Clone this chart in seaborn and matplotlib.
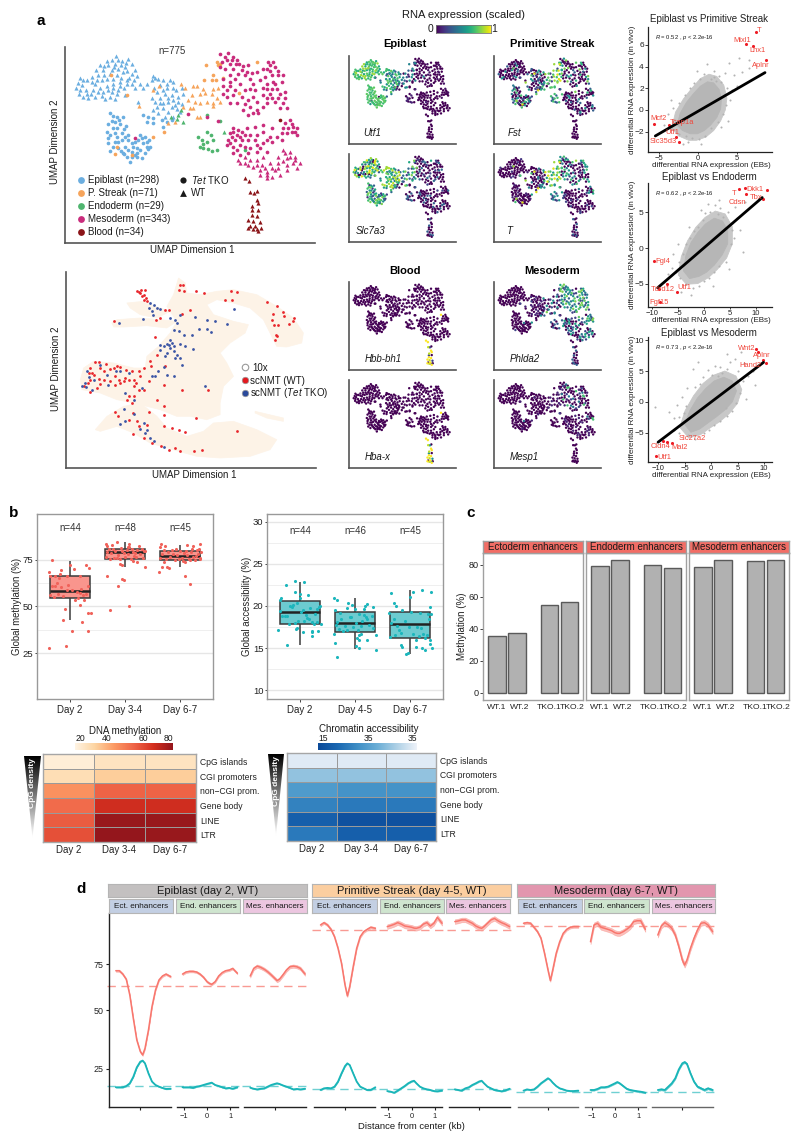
import numpy as np, pandas as pd
import matplotlib
matplotlib.use("Agg")
import matplotlib.pyplot as plt
from matplotlib.colors import LinearSegmentedColormap
from matplotlib.patches import Polygon, Rectangle
import seaborn as sns

sns.set_theme(style="white")
plt.rcParams['font.family'] = ['Liberation Sans', 'DejaVu Sans']
plt.rcParams.update({'mathtext.fontset':'custom','mathtext.rm':'Liberation Sans',
                     'mathtext.it':'Liberation Sans:italic','mathtext.bf':'Liberation Sans:bold'})

# ---------------- UMAP embedding (a, top) : (x, y, marker) by cluster
EPI_A_T = [(348,168),(335,180),(320,183),(300,195),(325,195),(345,190),(365,182),(385,175),(395,190),(375,200),(355,205),(335,210),(310,210),(295,225),(275,230),(240,232),(235,248),(228,262),(245,255),(262,240),(285,250),(305,240),(320,235),(330,222),(350,225),(370,215),(395,220),(410,228),(380,240),(360,245),(340,250),(320,258),(300,262),(280,268),(262,282),(238,280),(265,295),(285,290),(305,288),(330,290),(345,298),(335,275),(355,270),(372,262),(395,250),(420,250),(350,282),(375,285),(310,275),(325,270),(355,178),(378,188),(312,197),(288,210),(342,200),(362,195),(382,212),(405,210),(275,245),(250,240),(258,268),(240,268),(292,238),(312,225),(340,235),(362,232),(388,232),(402,240),(295,275),(272,280),(250,290),(315,298),(338,262),(360,258),(382,250),(405,262)]
EPI_B_T = [(458,228),(475,235),(490,240),(510,238),(520,245),(455,240),(440,250),(430,262),(480,255),(500,262),(520,262),(545,262),(470,275),(495,280),(515,285),(535,290),(550,282),(465,305),(480,295),(505,305),(525,315),(545,312),(470,320),(490,325),(515,320),(475,340),(495,350),(520,350),(540,335),(415,305),(465,232),(500,250),(528,270),(490,270),(462,262),(505,295),(520,300),(490,310),(455,295),(535,305),(480,310),(505,335),(530,328),(460,330)]
EPI_B_C = [(430,345),(445,350),(460,355),(440,365),(458,368),(485,360),(500,365),(490,382),(515,360)]
EPI_C_C = [(330,338),(350,352),(370,352),(345,365),(360,372),(378,378),(325,372),(340,385),(320,395),(345,398),(365,398),(385,405),(325,415),(350,410),(365,420),(385,420),(325,430),(345,425),(330,452),(355,445),(375,440),(400,440),(420,405),(435,410),(448,420),(415,420),(405,425),(430,430),(450,440),(405,465),(420,450),(435,458),(445,448),(385,450),(368,458),(390,485),(395,470),(372,463),(412,470),(425,475),(338,348),(358,360),(335,362),(352,385),(372,388),(330,405),(355,425),(375,410),(338,440),(362,452),(395,430),(410,445),(425,415),(440,425),(395,455),(410,458),(440,440),(380,470)]
PS_T = [(417,318),(458,270),(478,258),(542,250),(578,258),(590,258),(555,262),(610,265),(640,265),(655,262),(575,285),(600,282),(615,278),(635,282),(650,295),(565,300),(585,305),(600,310),(620,305),(640,310),(660,305),(548,320),(570,325),(578,325),(640,318),(590,352),(505,370),(525,365),(600,350)]
PS_C = [(617,195),(652,185),(655,195),(660,190),(770,185),(640,225),(612,238),(635,238),(648,238),(670,232),(492,395),(460,412),(352,440),(345,462),(395,465),(718,278),(332,223),(380,285)]
ENDO_T = [(513,350),(535,345),(530,358),(548,365),(542,330),(672,397)]
ENDO_C = [(660,363),(595,410),(605,420),(620,395),(632,405),(640,420),(610,432),(620,425),(625,448),(610,445),(600,440),(652,450),(635,452),(620,345),(735,450)]
MES_T_C = [(660,160),(685,158),(700,170),(712,178),(680,180),(665,185),(690,190),(718,190),(660,200),(700,205),(725,210),(745,195),(740,215),(670,235),(690,225),(705,235),(735,225),(750,235),(770,215),(790,205),(805,185),(820,185),(800,205),(825,200),(815,225),(835,225),(795,230),(780,240),(800,250),(820,245),(848,225),(845,245),(800,265),(830,265),(815,265),(750,265),(765,270),(735,270),(670,258),(690,258),(680,270),(705,270),(725,290),(700,285),(668,280),(680,290),(790,285),(815,295),(835,295),(855,295),(850,310),(825,305),(800,310),(860,325),(840,325),(745,300),(770,305),(750,320),(730,330),(770,330),(745,345),(775,340),(710,310),(690,310),(800,295),(870,360),(855,370),(880,380),(850,385),(875,395),(860,400),(890,385),(845,400),(890,405),(765,380),(790,375),(815,385),(845,420),(565,342),(405,415),(620,350),(655,363),(675,170),(695,178),(708,192),(675,205),(715,220),(730,198),(755,218),(760,250),(720,250),(690,245),(810,195),(835,212),(810,212),(825,250),(790,262),(840,280),(855,275),(810,280),(760,290),(735,312),(760,340),(790,320),(875,372),(865,385),(885,395)]
MES_B_C = [(700,385),(715,390),(740,385),(690,400),(710,405),(735,405),(685,420),(705,420),(725,420),(745,420),(770,405),(790,395),(810,410),(680,435),(700,440),(720,435),(750,445),(770,435),(790,430),(815,425),(700,460),(720,465),(745,460),(770,455),(800,455),(700,395),(725,395),(695,412),(720,410),(750,405),(690,430),(712,450),(735,440),(765,420),(780,445),(800,420),(830,410)]
MES_B_T = [(850,450),(870,455),(835,470),(860,475),(885,470),(900,490),(880,490),(860,495),(835,490),(790,470),(770,480),(750,480),(715,480),(735,490),(760,500),(785,495),(810,490),(825,510),(800,515),(780,510),(800,535),(815,530),(840,525),(860,510),(890,505),(720,490),(870,470),(848,482),(885,480),(745,495),(770,495),(795,505),(815,505),(835,505),(800,525),(855,460),(735,470),(780,525)]
BLOOD_T = [(735,533),(748,543),(750,577),(762,578),(772,572),(770,600),(775,610),(757,620),(755,632),(775,630),(770,650),(745,660),(760,665),(780,668),(750,680),(765,680),(745,685),(758,688),(772,688),(782,685),(775,695),(755,645)]
BLOOD_C = [(840,360)]

CLUSTER_COLORS = {'epiA':'#6baee0','epiB':'#6baee0','epiC':'#6baee0','ps':'#f6a45b','endo':'#4fb56f',
                  'mesT':'#c92c7c','mesB':'#c92c7c','blood':'#8b1418'}
UMAP_SETS = [('epiA','^',EPI_A_T),('epiB','^',EPI_B_T),('epiB','o',EPI_B_C),('epiC','o',EPI_C_C),
             ('ps','^',PS_T),('ps','o',PS_C),('endo','^',ENDO_T),('endo','o',ENDO_C),
             ('mesT','o',MES_T_C),('mesB','o',MES_B_C),('mesB','^',MES_B_T),('blood','^',BLOOD_T),('blood','o',BLOOD_C)]
LEGEND_CLUSTERS = ['Epiblast (n=298)','P. Streak (n=71)','Endoderm (n=29)','Mesoderm (n=343)','Blood (n=34)']
LEGEND_COLORS = ['#6baee0','#f6a45b','#4fb56f','#c92c7c','#8b1418']

# expression levels cycled over the cells of every cluster
EXPR = {
 'Utf1':  dict(epiA=[.7,.75,.6,.85,.65],epiB=[.7,.6,.75,.5,.3],epiC=[.72,.68,.75],ps=[.45,.3,.1,.5,0],endo=[.1,0],mesT=[0,0,0,0,0,.05],mesB=[0],blood=[0]),
 'Slc7a3':dict(epiA=[.85,.6,.95,.7,.5,.3,0],epiB=[.85,.9,.7,.6,.4],epiC=[.7,.5,.3,.8,.15,.6],ps=[.6,.8,.35,.2],endo=[.3,0],mesT=[0,0,0,0,.2,0,0,.35],mesB=[0,0,0,.3,0,0],blood=[0,0,0,.3]),
 'Fst':   dict(epiA=[0,0,0,0,0,.3,0,0,0,0,.5,0],epiB=[.3,0,0,.5,0,.2,0],epiC=[.4,0,.2,.7,0,0,.5,0],ps=[.85,.7,.95,.6,.75,.2],endo=[.3,.7],mesT=[0,.5,.8,0,0,.3,0,0,.65,0,0,0],mesB=[0,0,0,0,.3,0,0,0,.5,0],blood=[0,0,0]),
 'T':     dict(epiA=[0,0,0,0,0,0,0,.15],epiB=[0,0,0,.4,0,0,0,.1],epiC=[0,0,0,0,.1,0],ps=[.85,.7,.95,.55],endo=[.2,.5],mesT=[.5,.7,.2,.6,0,.4,0,0,0,0],mesB=[0,0,0,0,0,0,.2],blood=[0,0,.3,0]),
 'Hbb-bh1':dict(epiA=[0],epiB=[0],epiC=[0],ps=[0],endo=[0],mesT=[0],mesB=[0],blood=[1,1,.9,.2,0]),
 'Hba-x': dict(epiA=[0],epiB=[0],epiC=[0],ps=[0],endo=[0],mesT=[0],mesB=[0],blood=[1,1,.9,.5,0]),
 'Phlda2':dict(epiA=[0],epiB=[0,0,.1],epiC=[0],ps=[0,.2,0,.5],endo=[0,.3],mesT=[.6,.8,.4,.5,.2,.75,.3],mesB=[0,.4,.2,.6,0],blood=[0,0,.3]),
 'Mesp1': dict(epiA=[0],epiB=[0],epiC=[0],ps=[0,0,.1],endo=[0],mesT=[0,0,.4,0,.2,0,0,.7,.1,0,0],mesB=[0,0,0,.1],blood=[0]),
}

# ---------------- 10x atlas projection (a, bottom)
ATLAS_BODY = [(535,115),(555,130),(560,160),(600,165),(650,155),(700,150),(770,165),(830,200),(880,235),(910,280),(905,310),(860,322),(830,320),(810,280),(790,240),(750,205),(700,190),(650,180),(620,195),(640,225),(700,245),(745,255),(735,280),(690,310),(660,340),(680,370),(700,410),(670,440),(660,490),(660,525),(620,540),(570,530),(530,530),(480,510),(440,500),(400,490),(350,480),(300,460),(245,450),(240,420),(250,385),(280,365),(340,370),(400,385),(435,385),(440,350),(475,320),(510,280),(530,245),(500,200),(520,165)]
ATLAS_ARM = [(335,250),(350,240),(420,235),(480,240),(530,245),(500,265),(440,258),(370,262),(340,262)]
ATLAS_CRESCENT = [(285,570),(320,530),(370,500),(420,490),(470,530),(500,565),(560,590),(610,575),(640,550),(700,545),(770,570),(830,600),(810,630),(750,650),(660,655),(590,650),(500,625),(450,610),(400,580),(350,560),(300,575)]
ATLAS_SMALL = [(765,515),(850,535),(850,545),(800,535),(765,520)]
ATLAS_TOP = [(380,190),(430,185),(450,195),(510,215),(470,235),(420,225),(390,205)]
WT_CELLS = [(410,155),(420,160),(435,150),(425,170),(430,180),(440,185),(415,158),(430,165),(437,175),(422,152),(538,137),(548,137),(536,152),(550,155),(588,155),(612,160),(693,155),(712,158),(676,181),(695,180),(800,187),(832,200),(820,222),(850,218),(852,230),(882,235),(878,245),(815,240),(822,255),(835,255),(867,254),(830,290),(825,300),(828,285),(570,210),(545,222),(493,210),(505,212),(480,235),(468,240),(342,245),(465,292),(470,345),(450,365),(452,380),(430,385),(495,380),(445,425),(492,435),(545,452),(625,452),(250,440),(262,430),(270,420),(275,400),(270,385),(285,368),(297,368),(300,385),(310,395),(318,372),(330,388),(340,385),(350,380),(360,382),(378,390),(395,395),(415,395),(420,410),(408,430),(400,440),(385,420),(372,425),(360,430),(345,435),(330,425),(310,420),(295,418),(280,405),(265,400),(290,445),(268,458),(300,432),(355,420),(345,408),(375,415),(400,420),(430,450),(415,450),(385,470),(380,480),(400,470),(395,490),(470,480),(490,500),(490,525),(445,518),(345,517),(352,530),(397,520),(385,540),(410,545),(398,583),(415,560),(440,555),(430,595),(455,610),(490,558),(515,565),(535,572),(555,578),(483,620),(505,630),(525,625),(540,635),(582,635),(605,630),(712,575),(588,535)]
TKO_CELLS = [(450,190),(462,195),(455,215),(470,205),(445,205),(458,225),(480,208),(428,237),(355,250),(510,235),(525,240),(540,225),(530,250),(520,270),(535,275),(550,285),(575,285),(585,232),(620,240),(645,243),(682,252),(598,268),(620,268),(632,278),(510,300),(515,310),(505,315),(520,320),(510,325),(500,312),(490,320),(480,315),(478,330),(500,340),(495,350),(520,335),(530,345),(540,355),(545,375),(525,355),(490,383),(500,405),(520,408),(473,395),(465,410),(455,410),(580,328),(555,318),(540,312),(260,395),(265,412),(255,430),(245,440),(258,442),(275,450),(282,422),(300,375),(320,405),(322,435),(348,395),(360,395),(385,400),(425,445),(375,460),(400,482),(372,508),(375,545),(360,553),(400,522),(430,550),(420,568),(440,572),(435,580),(448,595),(460,605),(490,622),(615,440),(702,207)]

# ---------------- scatter panels: EB vs in vivo differential expression
XY1_BLOB = [(-2.7,-1.4),(-2.3,-.3),(-1.5,.7),(-.6,1.5),(.3,2.2),(1.2,2.6),(2,2.5),(2.7,1.9),(3,1),(2.9,.1),(2.4,-.7),(1.6,-1.4),(.8,-1.9),(-.1,-2.2),(-1,-2.2),(-2,-1.9)]
XY1_HALO = [(-3.4,-1.7),(-2.9,-.2),(-1.9,1),(-.8,2),(.3,2.9),(1.4,3.3),(2.4,3.1),(3.3,2.3),(3.7,1.1),(3.5,0),(2.9,-1),(2,-1.9),(1,-2.5),(-.2,-2.8),(-1.2,-2.8),(-2.5,-2.4)]
XY1_CELLS = [(1.2,4.2),(2,3.6),(2.7,3.1),(3.4,3.4),(4.6,3.2),(4,4.3),(5.2,4.8),(6.6,4.6),(3,2.6),(3.7,2),(4.3,1.8),(5,2.2),(2.1,3),(.8,3.3),(.2,2.9),(-.5,2.5),(-1,2),(-1.7,1.4),(-2.5,.6),(-3.2,.2),(-3.9,-.4),(-4.4,-1.4),(-3.4,-1.8),(-3,-.9),(-2.4,-2.2),(-1.6,-2.4),(-.8,-2.6),(.1,-2.7),(.9,-2.4),(1.7,-1.7),(2.5,-1.1),(3.2,-.4),(3.6,.5),(4.1,.9),(.4,-3.1),(-1.3,-3),(-2,-3.1),(-3.5,.9),(2.3,2.7),(3.3,1.4),(5.6,3.5),(6.5,3.9),(-.2,3.6),(1.6,2.9),(-1.9,-.9),(2.9,-1.6),(3.9,-1)]
XY1_LINE_X = [-5.5, 8.6]
XY1_LINE_Y = [-2.4, 3.45]
XY1_RED = [(7.4,7.2),(6.2,6.06),(7.05,5.94),(8.76,4.6),(-5.7,-1.26),(-3.7,-1.4),(-2.83,-2.46),(-2.49,-2.95)]
XY1_GENES = [('T',7.9,7.3),('Mixl1',5.67,6.4),('Lhx1',7.6,5.5),('Aplnr',8.0,4.15),('Mcf2',-5.15,-.83),('Tcap1a',-2.06,-1.14),('Utf1',-3.35,-2.06),('Slc35d3',-4.5,-2.89)]

XY2_BLOB = [(-4,-3.2),(-3.5,-1),(-2.5,.8),(-1.2,2.2),(.3,3.4),(2,4.2),(3.6,3.8),(4.6,2.5),(4.6,.6),(3.5,-1),(2,-2.4),(.5,-3.4),(-1,-4),(-2.8,-4.3)]
XY2_HALO = [(-5,-3.8),(-4.4,-1.2),(-3.2,1),(-1.6,2.9),(.2,4.3),(2.2,5.2),(4.1,4.8),(5.5,3),(5.5,.6),(4.4,-1.4),(2.6,-3),(.8,-4.2),(-1.2,-5),(-3.4,-5.1)]
XY2_CELLS = [(3,6.8),(2.2,6),(3.2,5.6),(1.2,5.1),(2.7,4.8),(4.6,5),(.8,6.2),(5.5,3.5),(6.5,4.2),(7,2.6),(5.8,1.4),(5.2,.5),(7.5,-.6),(4.2,-1.9),(3,-2.5),(2,-3.4),(1,-4.2),(0,-4.6),(-1,-5.3),(-2.2,-5.6),(-3.5,-5.1),(-4.6,-4.2),(-5.4,-3.4),(-6.2,-2.8),(-6.9,-3.6),(-4.8,-1.9),(-4,-.8),(-3.5,.5),(-2.7,1.4),(-2,2.4),(-1.2,3),(-.2,4),(.2,4.9),(-3,3),(-5,.6),(-6,-.8),(6,5.8),(8,6.5),(-7.8,-4.8),(-2.6,-6.6),(-4.5,-6.2),(4.9,-3),(1.8,-5.3),(-.6,5.4),(3.6,4.4),(5.4,2.5)]
XY2_LINE_X = [-9, 11.3]
XY2_LINE_Y = [-5.6, 7.1]
XY2_RED = [(6.86,8.26),(7.96,8.45),(12.2,8.1),(11.4,6.9),(8.15,7.6),(-9.7,-1.83),(-7.25,-5.07),(-8.7,-5.8),(-5.18,-6.15),(-8.5,-7.56)]
XY2_GENES = [('T',5.9,7.65),('Dkk1',9.9,8.3),('Tbx',10.2,7.08),('Cdsn',6.5,6.38),('Fgl4',-8,-1.93),('Tdrd12',-8,-5.8),('Utf1',-3.9,-5.5),('Fgf15',-8.7,-7.7)]

XY3_BLOB = [(-5,-3.6),(-4,-1.4),(-2.6,.6),(-1,2.2),(.6,3.4),(2.4,4),(4,3.4),(4.8,1.8),(4,0),(2.6,-1.3),(1,-2.4),(-.6,-3.4),(-2.2,-4.4),(-3.8,-4.9)]
XY3_HALO = [(-5.9,-4.1),(-4.9,-1.4),(-3.3,1),(-1.5,3),(.4,4.3),(2.6,5),(4.7,4.2),(5.8,2),(5,-.2),(3.4,-1.9),(1.6,-3.2),(-.2,-4.2),(-2,-5.3),(-4.2,-5.8)]
XY3_CELLS = [(3,7.8),(3.5,6.5),(4.6,7),(5.6,8),(6.2,6.3),(5,5),(3,5.3),(1.6,5.6),(-.6,5.2),(-3.4,5.4),(-1.5,4),(.2,4.4),(1.4,4.2),(-4.5,2.2),(-3,2.4),(-5.4,.8),(-6.5,-.5),(-8,-1.7),(-10.5,-.8),(-7,-2.6),(-6,-2.4),(-5.2,-1.8),(-4.7,-.6),(6,3.4),(7,4.2),(5.4,1.4),(6.5,.5),(4.7,-.2),(4,-1.5),(3,-2.2),(1.6,-3),(.6,-3.8),(-.3,-4.5),(-1.4,-5),(-3,-6),(-4.4,-5.4),(-6,-5),(-7,-4.6),(-5.5,-3.6),(8,5),(8.3,2.8),(2.8,-.9),(2,4.7),(-2,2.9),(.7,5.8),(-2.5,6.5)]
XY3_LINE_X = [-10, 9.9]
XY3_LINE_Y = [-6.5, 6.4]
XY3_RED = [(8.5,8.55),(8.9,8),(9.75,6.77),(10.4,6.34),(-9.1,-6.24),(-8.4,-6.5),(-7.3,-6.56),(-10.4,-8.7)]
XY3_GENES = [('Wnt2',6.7,8.7),('Aplnr',9.6,7.47),('Hand2',7.36,5.97),('Cldn4',-9.6,-7.26),('Mal2',-6,-7.37),('Slc27a2',-3.5,-5.97),('Utf1',-8.87,-9)]

# ---------------- b: boxes (whisker low, q1, median, q3, whisker high) and cells (jitter, value)
MET_DAYS = ['Day 2','Day 3-4','Day 6-7']
ACC_DAYS = ['Day 2','Day 4-5','Day 6-7']
MET_BOX = [[43,54.4,58.5,66.1,74.5],[71.4,75.7,79,81,84.4],[71,75,77,80,83]]
ACC_BOX = [[15.4,17.9,19.3,20.55,22.9],[14.84,16.87,18,19.3,21],[14.25,16.15,17.86,19.3,21.9]]
MET_N = ['n=44','n=48','n=45']
ACC_N = ['n=44','n=46','n=45']
MET_D2 = [(-.38,27.5),(-.07,28.7),(.33,36.6),(.03,37.1),(.22,41.7),(-.13,43),(.33,46.7),(.38,46.7),(-.1,48.7),(.18,51),(-.33,75),(0,72),(.29,72.3),(.35,70.5),(.07,70),(-.17,69.7),(-.38,68.6),(-.18,67.5),(-.36,66.5),(-.27,66.1),(-.2,65.2),(-.06,66.1),(.18,66.1),(-.33,60.8),(-.27,61.1),(-.36,56.3),(-.21,56.7),(-.06,58.6),(.13,58),(.18,57.2),(.32,61),(.24,56.3),(.15,54.5),(.25,53.3),(-.3,55),(-.12,55.8),(.03,59),(.09,53.6),(-.17,60.4),(.2,59.3),(-.24,62.5),(-.03,61.7),(.29,56.9)]
MET_D34 = [(-.27,48),(.08,50.3),(-.13,61.1),(-.33,66.3),(-.05,64.7),(-.02,64.1),(-.1,72.9),(-.06,72.2),(.36,71.4),(.22,73.6),(-.14,84.4),(.08,83.5),(-.35,83.4),(-.24,83.2),(-.33,82.3),(-.35,76.8),(-.32,79.4),(-.3,81),(-.25,78.6),(-.2,75.9),(-.18,80),(-.12,77.7),(-.08,81.2),(-.05,79.5),(0,76.5),(.03,80.5),(.06,78),(.1,75.6),(.12,81),(.15,79),(.17,77),(.22,80.5),(.28,78),(.32,76),(.3,81),(.35,79.5),(-.28,75.5),(-.15,76.2),(.2,76.5),(.08,82),(-.02,78.5),(.25,82.3),(.36,80),(.14,74.6),(-.22,80.9),(-.1,75.3),(.05,82),(.18,78.9)]
MET_D67 = [(.19,62.2),(.09,66.3),(-.38,68.6),(-.33,71),(-.2,70.9),(-.24,71.4),(-.3,74.1),(.09,73.8),(-.35,83.4),(.36,83.4),(.13,83),(.23,82.7),(-.37,76),(-.33,78),(-.3,80.5),(-.36,81.8),(-.26,75.5),(-.22,79),(-.18,76.5),(-.15,80.2),(-.1,75.2),(-.05,77.5),(0,79.5),(.03,76),(.06,74.6),(.1,80),(.13,77.5),(.16,75.5),(.2,79),(.24,76.5),(.27,74.9),(.3,80.5),(.33,78),(.36,76.2),(.38,79.3),(.34,81),(-.12,78.3),(-.02,75.4),(.08,78.8),(.22,81),(-.28,82.5),(.18,74.8),(.29,77),(-.08,80.6),(.37,75.6)]
ACC_D2 = [(-.4,17.2),(-.23,15.4),(-.26,22.5),(-.09,23),(.08,22.8),(-.09,21.7),(0,21.4),(0,20.9),(.15,21.3),(-.34,20.9),(-.36,20.7),(-.08,17.3),(-.05,17.4),(.06,16.9),(.22,17),(.33,17),(.21,16.4),(.21,16.9),(-.37,19.4),(-.33,18.8),(-.28,18.8),(-.24,18.8),(-.18,20),(-.14,19.9),(-.12,20.1),(-.05,20.4),(-.03,18.2),(.02,19.3),(.05,19.5),(.1,18.9),(.12,18.6),(.18,19.8),(.22,18.1),(.25,17.9),(.27,19),(.31,19.7),(.34,19.9),(.36,20),(.38,17.9),(.16,18.4),(-.1,18),(.3,18.1),(-.2,17.9),(.08,18.2)]
ACC_D45 = [(-.38,21),(-.32,20.7),(-.13,20.3),(-.05,20.1),(.22,20.2),(.33,19.9),(.19,20),(-.14,19.8),(0,19.6),(-.37,19.5),(.16,19.7),(-.35,17.7),(-.33,18.1),(-.3,17.3),(-.26,18.5),(-.22,17),(-.18,17.6),(-.1,18.7),(-.07,18.7),(-.04,17.5),(.02,18),(.05,17.1),(.1,17.6),(.13,18.2),(.16,18.9),(.2,18.7),(.22,18.4),(.25,17.7),(.3,18.8),(.33,17.4),(-.15,17.2),(-.28,19.2),(.08,19),(-.38,16.7),(.07,16.5),(.1,16.7),(.03,16.2),(.38,16.5),(.07,15.9),(.21,16),(-.36,15.6),(.01,15.2),(.07,15),(.39,14.8),(-.33,13.9)]
ACC_D67 = [(-.35,21.5),(-.3,20.3),(-.26,20),(0,21.1),(.05,21.7),(.21,21.9),(.38,21.7),(.36,19.9),(-.38,19.2),(-.14,19.5),(.02,19.3),(.19,19.2),(.32,19.1),(.38,19),(-.3,18.4),(-.34,18),(-.24,17.6),(-.2,17.2),(-.17,16.8),(-.1,18.2),(-.02,17.5),(.06,16.7),(.12,17.5),(.16,16.4),(.2,17.4),(.24,16.7),(.3,16.5),(.35,18.5),(-.36,16.3),(-.28,16.6),(.28,16.2),(-.17,15.3),(-.14,15.1),(.1,15.1),(.21,15),(.28,14.8),(.36,15.5),(.4,15),(-.07,14.3),(-.04,14.4),(.37,16),(.1,16)]

FEATURES = ['CpG islands','CGI promoters','non\u2212CGI prom.','Gene body','LINE','LTR']
HEAT_DAYS = ['Day 2','Day 3-4','Day 6-7']
MET_HEAT = [[18,23,23],[25,31,31],[46,58,58],[56,73,73],[60,85,85],[63,86,85]]
ACC_HEAT = [[34,34,34],[29,29,29],[24,23,23],[21,20,20],[17,15,15],[20,17,17]]

# ---------------- c
C_FACETS = ['Ectoderm enhancers','Endoderm enhancers','Mesoderm enhancers']
C_SAMPLES = ['WT.1','WT.2','TKO.1','TKO.2']
C_VALUES = [[35.5,37.2,55.3,56.8],[79.5,83.2,80,78.3],[78.8,83,82.5,83.4]]

# ---------------- d: profile curves on a common grid around the enhancer centre (kb)
KB = [-1.05,-.9,-.75,-.6,-.45,-.3,-.15,0,.1,.2,.35,.5,.65,.8,.95,1.1,1.3]
D_GROUPS = ['Epiblast (day 2, WT)','Primitive Streak (day 4-5, WT)','Mesoderm (day 6-7, WT)']
D_ENH = ['Ect. enhancers','End. enhancers','Mes. enhancers']
MET_CURVES = [
 [71.8,71.8,70.2,67.7,60.2,49.1,38.8,33.3,31.7,34.8,43.6,54.7,62.6,67.4,69.3,70.2,69],
 [70.2,71.2,71.5,71.5,71.2,70.2,68.7,66.6,65.8,65.3,66.6,69.3,70.9,71.8,72.1,72.9,70.6],
 [69.3,72.9,74,73.4,72.5,71.3,69.8,68.2,67.1,67.7,69.8,72.1,73.7,74,73.7,72.9,70.2],
 [93.6,94.7,93.6,91.5,88,82.5,75.3,65,59.8,64.2,73.7,82.5,88,90.4,91.5,92.5,92],
 [92.8,93.3,93.9,94.7,94,93.1,92.8,92.5,92.1,92,92.5,94,94.7,93.1,94.4,97.2,94.4],
 [95.2,95.5,96,96,95.2,94.4,93.1,92.3,92,92.8,94.4,96,96.7,95.6,94.7,94,92.8],
 [94.4,94.7,94.4,92.5,90.4,87.2,80.1,72.1,67.1,72.1,80.1,85.6,89.6,91.5,92.5,92.8,92.8],
 [85.6,93.6,94.4,92.5,92,91.5,90.9,89.9,89.6,89.6,90.4,91.5,92.8,95.2,95.6,95.6,91.5],
 [88.8,93.1,94.7,93.6,92,88.8,83.3,76.9,74.5,76.9,82.5,87.2,91.2,94.4,94.7,93.6,90.4]]
ACC_CURVES = [
 [16.3,16.3,16.3,16.9,18.2,21.3,25.8,28.5,29,27.7,22.9,19,17.4,16.6,16,15.5,15.6],
 [16.3,16.3,16.3,16,16.6,16.9,17.4,17.9,18.2,18.5,17.4,16.9,16.3,15.8,16,15.6,16.3],
 [16.1,15.6,15.3,15.6,15.8,16.6,17.4,17.9,18.2,17.9,17.2,16.6,16,15.3,15.5,15.3,15.6],
 [15,15.8,16,15.8,16.6,19,22.9,26.4,27.7,26.9,22.9,19,16.6,15.8,15,15,16.3],
 [14.5,14.2,13.7,14.7,15.8,16.9,18.2,19.1,19.4,18.2,16.6,15.8,15.3,15,14.5,14.4,14.7],
 [15.3,15,14.7,15.8,16.3,17.4,18.2,19.1,19.4,18.2,16.6,15.8,15,14.7,14.4,14.7,15.6],
 [14.7,15.3,15,15.3,16.6,18.2,19.4,20.6,19.8,18.5,16.9,15.8,15.3,14.7,14.5,14.5,14.7],
 [15,15,15.5,16.3,16.3,16.6,17.4,18.2,18.8,18.2,16.9,15.6,15,14.7,14.4,14.2,13.7],
 [15,15.3,15,16.6,18.2,20.6,24.8,27.7,28.3,27.4,22.9,19,16.6,15.8,15,15.8,15]]
MET_BAND = [.5,.5,.8,.6,1.1,1.1,.6,1.2,1.2]
ACC_BAND = [.25,.25,.25,.25,.25,.25,.25,.35,.5]
MET_MEAN = [64.4,91.2,93.1]
ACC_MEAN = [16.9,15.5,14]
D_TICKS = [75,53,25]
D_TICKLABELS = ['75','50','25']

# ================================================================= drawing
W, H = 800, 1141
fig = plt.figure(figsize=(W/100, H/100), dpi=100, facecolor='white')
def axpx(l, t, r, b, **kw):
    return fig.add_axes([l/W, 1-b/H, (r-l)/W, (b-t)/H], **kw)
def tx(x, y, s, size=7, ha='center', va='center', **kw):
    kw.setdefault('color', '#1a1a1a')
    return fig.text(x/W, 1-y/H, s, fontsize=size, ha=ha, va=va, **kw)
for s, x, y in [('a',41,21),('b',14,513),('c',471,513),('d',81,889)]:
    tx(x, y, s, 11, fontweight='bold', color='black')

# ---- UMAP a top
def umap_ax(ax):
    ax.set_xlim(195, 945); ax.set_ylim(730, 140)
    ax.set_xticks([]); ax.set_yticks([])
    ax.patch.set_alpha(0)
    sns.despine(ax=ax)
    for s in ['left','bottom']:
        ax.spines[s].set_color('#555555'); ax.spines[s].set_linewidth(1.2)

ax = axpx(65, 47, 315, 243); umap_ax(ax)
for g, m, pts in UMAP_SETS:
    sns.scatterplot(x=[p[0] for p in pts], y=[p[1] for p in pts], marker=m, s=9 if m=='^' else 7,
                    color=CLUSTER_COLORS[g], linewidth=0, ax=ax, legend=False)
for i, (lab, col) in enumerate(zip(LEGEND_CLUSTERS, LEGEND_COLORS)):
    y = [541,579,619,657,698][i]
    ax.scatter([242], [y], s=24, color=col, linewidth=0)
    ax.text(263, y, lab, fontsize=7, va='center', color='#1a1a1a')
ax.scatter([550],[540],s=20,color='k',linewidth=0,marker='o')
ax.scatter([550],[578],s=24,color='k',linewidth=0,marker='^')
ax.text(572,541,r'$\mathit{Tet}$ TKO',fontsize=7,va='center',color='#1a1a1a')
ax.text(572,579,'WT',fontsize=7,va='center',color='#1a1a1a')
tx(172,51,'n=775',7,color='#333333')
tx(55,142,'UMAP Dimension 2',7,rotation=90)
tx(192,250,'UMAP Dimension 1',7)

# ---- atlas
ax = axpx(66, 272, 316, 468)
ax.set_xlim(197,948); ax.set_ylim(685,97); ax.set_xticks([]); ax.set_yticks([]); sns.despine(ax=ax)
for s in ['left','bottom']:
    ax.spines[s].set_color('#555555'); ax.spines[s].set_linewidth(1.2)
for poly in [ATLAS_BODY, ATLAS_ARM, ATLAS_CRESCENT, ATLAS_SMALL, ATLAS_TOP]:
    ax.add_patch(Polygon(poly, closed=True, fc='#fdf3e7', ec='#fdf3e7', lw=0.5))
sns.scatterplot(x=[p[0] for p in WT_CELLS], y=[p[1] for p in WT_CELLS], s=4, color='#e8262c', linewidth=0, ax=ax, legend=False)
sns.scatterplot(x=[p[0] for p in TKO_CELLS], y=[p[1] for p in TKO_CELLS], s=4, color='#3b55a5', linewidth=0, ax=ax, legend=False)
ax.scatter([735],[383],s=22,fc='white',ec='#999999',lw=.8)
ax.scatter([735],[421],s=22,fc='#e3191f',ec='#999999',lw=.5)
ax.scatter([735],[460],s=22,fc='#2b4a9c',ec='#999999',lw=.5)
ax.text(757,385,'10x',fontsize=7,va='center',color='#1a1a1a')
ax.text(751,423,'scNMT (WT)',fontsize=7,va='center',color='#1a1a1a')
ax.text(751,459,r'scNMT ($\mathit{Tet}$ TKO)',fontsize=7,va='center',color='#1a1a1a')
tx(56,369,'UMAP Dimension 2',7,rotation=90)
tx(194,475,'UMAP Dimension 1',7)

# ---- small multiples
PANELS = [('Utf1',349,56),('Fst',494,56),('Slc7a3',349,154),('T',494,154),
          ('Hbb-bh1',349,282),('Phlda2',494,282),('Hba-x',349,380),('Mesp1',494,380)]
LABEL_X = {'Utf1':14,'Fst':14,'Slc7a3':7,'T':12,'Hbb-bh1':16,'Phlda2':16,'Hba-x':16,'Mesp1':16}
for gene, l, t in PANELS:
    ax = axpx(l, t, l+107, t+88); umap_ax(ax)
    xs, ys, cs = [], [], []
    for g, m, pts in UMAP_SETS:
        lev = EXPR[gene][g]
        for i, p in enumerate(pts):
            xs.append(p[0]); ys.append(p[1]); cs.append(lev[i % len(lev)])
    order = np.argsort(cs)
    df = pd.DataFrame({'x':np.array(xs)[order],'y':np.array(ys)[order],'v':np.array(cs)[order]})
    sns.scatterplot(data=df, x='x', y='y', hue='v', palette='viridis', hue_norm=(0,1), s=3, linewidth=0, ax=ax, legend=False)
    ax.set_xlabel(''); ax.set_ylabel('')
    tx(l+LABEL_X[gene], t+77, gene, 7, ha='left', style='italic')
tx(464,15,'RNA expression (scaled)',8)
cax = axpx(436,25,491,33); cax.imshow(np.linspace(0,1,256)[None,:],cmap='viridis',aspect='auto')
cax.set_xticks([]); cax.set_yticks([])
for s in cax.spines.values(): s.set_color('#777777'); s.set_linewidth(.6)
tx(431,29.5,'0',7.5); tx(494,29.5,'1',7.5)
for t_, x, y in [('Epiblast',405,44),('Primitive Streak',552,44),('Blood',405,271),('Mesoderm',552,271)]:
    tx(x,y,t_,8,fontweight='bold',color='black')

# ---- scatter panels
def xy_panel(box, xlim, ylim, xt, yt, title, title_y, xlab_y, r, halo, blob, cells, lx, ly, red, genes):
    ax = axpx(*box)
    ax.set_xlim(xlim); ax.set_ylim(ylim)
    ax.patch.set_alpha(0)
    ax.add_patch(Polygon(halo, closed=True, fc='#c8c8c8', ec='#c8c8c8', lw=.6))
    ax.add_patch(Polygon(blob, closed=True, fc='#b6b6b6', ec='#b6b6b6', lw=.6))
    sns.scatterplot(x=[p[0] for p in cells], y=[p[1] for p in cells], s=2.2, color='#b3b3b3', linewidth=0, ax=ax, legend=False)
    sns.lineplot(x=lx, y=ly, color='black', lw=2, ax=ax, errorbar=None, legend=False)
    sns.scatterplot(x=[p[0] for p in red], y=[p[1] for p in red], s=5, color='#ee1c25', linewidth=0, ax=ax, legend=False)
    for g, x, y in genes:
        ax.text(x, y, g, fontsize=5.4, color='#f0453a', ha='center', va='center')
    ax.set_xticks(xt); ax.set_yticks(yt)
    ax.set_xticklabels([str(v).replace('-','\u2212') for v in xt]); ax.set_yticklabels([str(v).replace('-','\u2212') for v in yt])
    ax.tick_params(axis='x', labelsize=5.5, length=1.5, width=.6, pad=.3, bottom=True, colors='#222222')
    ax.tick_params(axis='y', labelsize=6, length=2, width=.6, pad=1, left=True, colors='#222222')
    sns.despine(ax=ax)
    for s in ['left','bottom']:
        ax.spines[s].set_color('#222222'); ax.spines[s].set_linewidth(.9)
    ax.set_xlabel(''); ax.set_ylabel('')
    tx((box[0]+box[2])/2+1, xlab_y, 'differential RNA expression (EBs)', 5.8, color='#222222')
    tx(633, (box[1]+box[3])/2, 'differential RNA expression (in vivo)', 5.85, rotation=90, color='#222222')
    tx((box[0]+box[2])/2-1, title_y, title, 7, color='#222222')
    tx(box[0]+7, box[1]+10, r, 4.2, ha='left')

xy_panel((648,27,772,152),(-6.44,9.5),(-3.88,7.66),[-5,0,5],[-2,0,2,4,6],'Epiblast vs Primitive Streak',19,165.5,
         r'$\mathit{R}$ = 0.52 , $\mathit{p}$ < 2.2e-16',XY1_HALO,XY1_BLOB,XY1_CELLS,XY1_LINE_X,XY1_LINE_Y,XY1_RED,XY1_GENES)
xy_panel((648,183,772,307),(-10.87,13.2),(-8.3,9.15),[-10,-5,0,5,10],[-5,0,5],'Epiblast vs Endoderm',177,320.5,
         r'$\mathit{R}$ = 0.62 , $\mathit{p}$ < 2.2e-16',XY2_HALO,XY2_BLOB,XY2_CELLS,XY2_LINE_X,XY2_LINE_Y,XY2_RED,XY2_GENES)
xy_panel((648,337,772,462),(-11.9,11.5),(-9.7,10.5),[-10,-5,0,5,10],[-5,0,5,10],'Epiblast vs Mesoderm',333,475.5,
         r'$\mathit{R}$ = 0.73 , $\mathit{p}$ < 2.2e-16',XY3_HALO,XY3_BLOB,XY3_CELLS,XY3_LINE_X,XY3_LINE_Y,XY3_RED,XY3_GENES)

# ---- b boxes
def box_panel(box, days, stats, groups, ylim, yt, ylabel, ns, fill, dot, ny):
    ax = axpx(*box)
    long = pd.DataFrame([(d, v) for d, s in zip(days, stats) for v in s], columns=['day','v'])
    ax.set_axisbelow(True)
    ax.grid(True, color='#e6e6e6', lw=1)
    sns.boxplot(data=long, x='day', y='v', order=days, whis=(0,100), width=.74, color=fill, saturation=1,
                linecolor='#3a3a3a', linewidth=1.1, showfliers=False, ax=ax,
                medianprops=dict(lw=1.8, color='#222222'), capprops=dict(lw=0))
    for i, g in enumerate(groups):
        sns.scatterplot(x=[i+p[0] for p in g], y=[p[1] for p in g], s=5, color=dot, linewidth=0, ax=ax, legend=False, zorder=4)
    ax.set_xlim(-.6,2.6); ax.set_ylim(ylim); ax.set_yticks(yt)
    ax.set_xlabel(''); ax.set_ylabel('')
    tx(box[0]-20, (box[1]+box[3])/2, ylabel, 6.9, rotation=90, color='#222222')
    ax.tick_params(axis='y', labelsize=6.8, length=1.5, width=.6, pad=1, left=True, colors='#222222')
    ax.tick_params(axis='x', labelsize=7, length=2, width=.6, pad=2, bottom=True, colors='#222222')
    for m in ax.get_yticks()[:-1]:
        ax.axhline(m+(yt[1]-yt[0])/2, color='#efefef', lw=.7, zorder=0)
    for s in ax.spines.values():
        s.set_color('#999999'); s.set_linewidth(1)
    for i, n in enumerate(ns):
        ax.text(i, ny, n, fontsize=7, ha='center', va='center', color='#333333')
box_panel((37,514,213,699),MET_DAYS,MET_BOX,[MET_D2,MET_D34,MET_D67],(.4,99.6),[25,50,75],'Global methylation (%)',MET_N,'#f9958d','#f0625a',92)
box_panel((267,514,443,699),ACC_DAYS,ACC_BOX,[ACC_D2,ACC_D45,ACC_D67],(8.93,30.95),[10,15,20,25,30],'Global accessibility (%)',ACC_N,'#6ccbd0','#1cb6bc',28.9)

# ---- heatmaps
red_cm = LinearSegmentedColormap.from_list('met',['#fff4e4','#fdd5a2','#fc9a64','#ef6548','#d5301f','#94161c'])
blue_cm = LinearSegmentedColormap.from_list('acc',['#0b4a99','#1a68b2','#3f8fc6','#6baed6','#afd1e6','#eef2f9'])
def heat(box, vals, cmap, vmin, vmax, cbox, ttl, ttl_y, ticks, tick_px, tick_y, tri):
    ax = axpx(*box)
    df = pd.DataFrame(vals, index=FEATURES, columns=HEAT_DAYS)
    sns.heatmap(df, cmap=cmap, vmin=vmin, vmax=vmax, cbar=False, linewidths=.6, linecolor='#9a9a9a', ax=ax,
                xticklabels=True, yticklabels=True)
    ax.yaxis.tick_right()
    ax.tick_params(axis='y', labelsize=6.2, length=0, rotation=0, pad=3, colors='#222222')
    ax.tick_params(axis='x', labelsize=7, length=0, pad=2, rotation=0, colors='#222222')
    for s in ax.spines.values():
        s.set_visible(True); s.set_color('#a6a6a6'); s.set_linewidth(1)
    c = axpx(*cbox); c.imshow(np.linspace(0,1,256)[None,:],cmap=cmap,aspect='auto'); c.axis('off')
    tx((cbox[0]+cbox[2])/2+1, ttl_y, ttl, 7)
    for t_, x in zip(ticks, tick_px):
        tx(x, tick_y, t_, 6.2)
    l, t, r, b = tri
    g = axpx(l, t, r, b); g.axis('off')
    im = g.imshow(np.linspace(0,1,200)[:,None], cmap='gray', vmin=0, vmax=1, aspect='auto', extent=(0,1,1,0))
    g.set_xlim(0,1); g.set_ylim(1,0)
    clip = Polygon([(0,0),(1,0),(.5,1)], transform=g.transData, closed=True)
    im.set_clip_path(clip)
    tx((l+r)/2, t+27, 'CpG density', 6, rotation=90, color='white', fontweight='bold')
heat((43,754,196,842),MET_HEAT,red_cm,15,86,(75,743,173,750),'DNA methylation',731,['20','40','60','80'],[80,107,143,168],738.5,(24,756,41,838))
heat((287,753,436,841),ACC_HEAT,blue_cm,14,35,(318,743,417,750),'Chromatin accessibility',729,['15','35','35'],[323,368,412],738.5,(268,754,284,836))

# ---- c facets
positions = [0, 1, 2.62, 3.62]
label_pos = [0, 1.13, 2.62, 3.75]
for i, (title, vals) in enumerate(zip(C_FACETS, C_VALUES)):
    l = [483,586,689][i]
    ax = axpx(l, 553, l+100, 700)
    sns.barplot(x=positions, y=vals, native_scale=True, width=.87, color='#b1b1b1', saturation=1,
                edgecolor='#5a5a5a', linewidth=1, ax=ax)
    ax.set_xlim(-.7,4.3); ax.set_ylim(-4.4,87.5)
    ax.set_xticks(label_pos); ax.set_xticklabels(C_SAMPLES)
    ax.tick_params(axis='x', labelsize=6.1, length=0, pad=3, colors='#222222')
    if i == 0:
        ax.set_yticks([0,20,40,60,80])
        ax.tick_params(axis='y', labelsize=6.6, length=2, width=.6, pad=1, left=True, colors='#222222')
        ax.set_ylabel('Methylation (%)', fontsize=7, labelpad=1, color='#222222')
    else:
        ax.set_yticks([])
        ax.set_ylabel('')
    for s in ax.spines.values():
        s.set_color('#a0a0a0'); s.set_linewidth(1)
    st = axpx(l, 541, l+100, 553)
    st.set_xticks([]); st.set_yticks([]); st.set_facecolor('#f26d65')
    for s in st.spines.values():
        s.set_color('#a0a0a0'); s.set_linewidth(1)
    st.text(.5,.47,title,fontsize=7,ha='center',va='center',transform=st.transAxes,color='#1a1a1a')

# ---- d profiles
SUB_L = [(109,171),(177,238),(244,306),(314,375),(381,442),(449,510),(518,578),(585,646),(652,713)]
SUB_C = [140.3,207,274.7,345,411.7,479.3,548,615,682.3]
STRIP_L = [(109,173),(176,240),(243,307),(312,377),(380,444),(446,510),(518,582),(584,649),(652,715)]
GROUP_L = [(108,307,'#c3c0c0'),(312,511,'#fbcea0'),(517,715,'#e296ae')]
ENH_COL = ['#c3cfe3','#cfe5cf','#ecc6e0']
PX_PER_KB = 23.33
for i in range(9):
    l, r = SUB_L[i]; c = SUB_C[i]; g = i//3; e = i%3
    ax = axpx(l, 913, r, 1107)
    ax.patch.set_alpha(0)
    ax.set_xlim((l-c)/PX_PER_KB, (r-c)/PX_PER_KB)
    ax.set_ylim(6.9, 99.3)
    xx = ax.get_xlim()
    sns.lineplot(x=[xx[0]-.1, xx[1]+.1], y=[MET_MEAN[g]]*2, color='#f99a93', lw=1, dashes=(6,4), ax=ax, errorbar=None, legend=False)
    sns.lineplot(x=[xx[0]-.1, xx[1]+.1], y=[ACC_MEAN[g]]*2, color='#6fd0d2', lw=1, dashes=(6,4), ax=ax, errorbar=None, legend=False)
    m = np.array(MET_CURVES[i]); a = np.array(ACC_CURVES[i])
    ax.fill_between(KB, m-MET_BAND[i], m+MET_BAND[i], color='#f8766d', alpha=.45, lw=.4, clip_on=False)
    ax.fill_between(KB, a-ACC_BAND[i], a+ACC_BAND[i], color='#19b5b8', alpha=.6, lw=.3, clip_on=False)
    sns.lineplot(x=KB, y=MET_CURVES[i], color='#f8766d', lw=1.1, ax=ax, errorbar=None, legend=False)
    sns.lineplot(x=KB, y=ACC_CURVES[i], color='#19b5b8', lw=1.3, ax=ax, errorbar=None, legend=False)
    for line in ax.lines:
        line.set_clip_on(False)
    sns.despine(ax=ax, left=i!=0)
    ax.spines['bottom'].set_color('#222222' if g<2 else '#666666'); ax.spines['bottom'].set_linewidth(1)
    if e == 1:
        ax.set_xticks([-1,0,1]); ax.set_xticklabels(['\u22121','0','1'])
    else:
        ax.set_xticks([0]); ax.set_xticklabels([''])
    ax.tick_params(axis='x', labelsize=5.4, length=2, width=.8, pad=2, bottom=True, colors='#222222')
    if i == 0:
        ax.set_yticks(D_TICKS); ax.set_yticklabels(D_TICKLABELS)
        ax.tick_params(axis='y', labelsize=6.4, length=2, width=.8, pad=2, left=True, colors='#222222')
        ax.spines['left'].set_color('#222222'); ax.spines['left'].set_linewidth(1)
    else:
        ax.set_yticks([])
    ax.set_xlabel(''); ax.set_ylabel('')
    sl, sr = STRIP_L[i]
    st = axpx(sl, 899, sr, 913); st.set_xticks([]); st.set_yticks([]); st.set_facecolor(ENH_COL[e])
    for s in st.spines.values():
        s.set_color('#b5b5b5'); s.set_linewidth(.8)
    st.text(.5,.46,D_ENH[e],fontsize=5.9,ha='center',va='center',transform=st.transAxes,color='#1a1a1a')
for (l, r, col), name in zip(GROUP_L, D_GROUPS):
    st = axpx(l, 884, r, 897); st.set_xticks([]); st.set_yticks([]); st.set_facecolor(col)
    for s in st.spines.values():
        s.set_color('#b5b5b5'); s.set_linewidth(.8)
    st.text(.5,.46,name,fontsize=8,ha='center',va='center',transform=st.transAxes,color='#1a1a1a')
tx(411,1126.5,'Distance from center (kb)',6.8)

fig.savefig('out.png', dpi=100)
